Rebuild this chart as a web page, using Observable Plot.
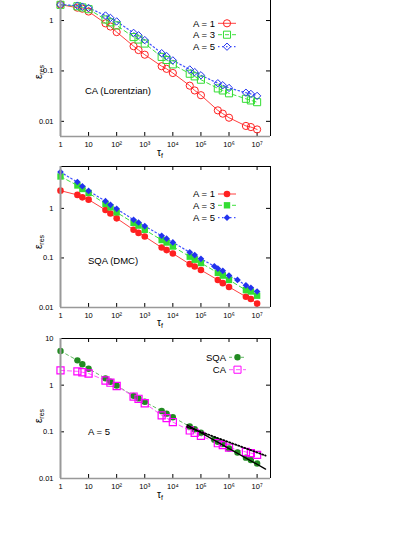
<!DOCTYPE html>
<html><head><meta charset="utf-8">
<script src="https://cdn.jsdelivr.net/npm/d3@7"></script>
<script src="https://cdn.jsdelivr.net/npm/@observablehq/plot@0.6"></script>
<style>
body{margin:0;background:#fff;}
#wrap{position:relative;width:415px;height:537px;overflow:hidden;background:#fff;font-family:"Liberation Sans",Arial,sans-serif;}
#wrap svg{position:absolute;left:0;background:transparent;overflow:visible;}
</style></head><body><div id="wrap"></div>
<script>
// ---- data ----
const tau = [1,4,6,10,40,60,100,400,600,1000,4000,6000,1e4,4e4,6e4,1e5,4e5,6e5,1e6,4e6,6e6,1e7];
const tauS5 = [1,4,6,10,40,60,100,400,600,1000,4000,6000,1e4,4e4,6e4,1e5,3e5,4e5,6e5,1e6,2e6,4e6,6e6,1e7];

const caA1 = [2.07,1.80,1.72,1.51,0.88,0.76,0.59,0.31,0.26,0.21,0.124,0.110,0.091,0.051,0.041,0.033,0.0165,0.0142,0.0118,0.0081,0.0077,0.0069];
const caA3 = [2.05,1.92,1.82,1.68,1.05,0.92,0.80,0.47,0.42,0.35,0.19,0.165,0.135,0.088,0.078,0.067,0.045,0.041,0.036,0.028,0.026,0.024];
const caA5 = [2.07,1.98,1.89,1.78,1.26,1.13,0.96,0.57,0.51,0.41,0.225,0.197,0.162,0.107,0.095,0.082,0.057,0.052,0.046,0.037,0.035,0.032];

const sqaA1 = [2.28,1.87,1.67,1.50,0.93,0.79,0.63,0.37,0.32,0.27,0.162,0.144,0.123,0.075,0.067,0.057,0.036,0.031,0.026,0.0165,0.0148,0.012];
const sqaA3 = [4.4,2.9,2.46,2.05,1.23,1.05,0.83,0.51,0.45,0.37,0.23,0.205,0.17,0.106,0.092,0.079,0.050,0.044,0.036,0.0224,0.021,0.0173];
const sqaA5 = [5.4,3.4,2.8,2.25,1.40,1.18,0.98,0.59,0.52,0.44,0.28,0.245,0.206,0.13,0.114,0.096,0.068,0.061,0.055,0.044,0.036,0.028,0.025,0.021];

const fitTau = [3.2e4, 2e7];
const fitSQA = [0.141, 0.0159];
const fitCA = [0.128, 0.031];

const xTicks = [1,10,100,1e3,1e4,1e5,1e6,1e7];
const xTickLabels = ["1","10","10²","10³","10⁴","10⁵","10⁶","10⁷"];
const yTicksA = [0.01,0.1,1];
const yLabelsA = ["0.01","0.1","1"];
const yTicksB = [0.01,0.1,1,10];
const yLabelsB = ["0.01","0.1","1","10"];
const xDomain = [1, 3e7];

const legend1 = ["A = 1","A = 3","A = 5"];
const legend3 = ["SQA","CA"];
const notes = ["CA (Lorentzian)","SQA (DMC)","A = 5"];

const FONT = '"Liberation Sans", Arial, Helvetica, sans-serif';
const wrap = document.getElementById("wrap");

function series(xs, ys){ return xs.map((x,i)=>({x, y: ys[i]})); }

function panel(cfg){
  const W=415, ML=60, MR=145;
  const innerW = W-ML-MR;
  const H = cfg.marginTop + cfg.innerH + cfg.marginBottom;
  const xLab = new Map(xTicks.map((t,i)=>[t, xTickLabels[i]]));
  const yLab = new Map(cfg.yTicks.map((t,i)=>[t, cfg.yLabels[i]]));
  const plot = Plot.plot({
    width: W, height: H,
    marginLeft: ML, marginRight: MR, marginTop: cfg.marginTop, marginBottom: cfg.marginBottom,
    style: {background: "transparent", fontFamily: FONT, overflow: "visible"},
    x: {type: "log", domain: xDomain},
    y: {type: "log", domain: cfg.yDomain},
    marks: [
      Plot.axisX(xTicks, {tickSize: 0, tickPadding: 5, tickFormat: d => xLab.get(d), fontSize: 7.5, label: null}),
      Plot.axisY(cfg.yTicks, {tickSize: 0, tickPadding: 7, tickFormat: d => yLab.get(d), fontSize: 7.5, label: null}),
      Plot.tickX(xTicks, {stroke: "#000", insetTop: cfg.innerH - 4}),
      Plot.tickX(xTicks, {stroke: "#000", insetBottom: cfg.innerH - 4}),
      Plot.tickY(cfg.yTicks, {stroke: "#000", insetRight: innerW - 4}),
      Plot.tickY(cfg.yTicks, {stroke: "#000", insetLeft: innerW - 4}),
      ...cfg.marks,
      Plot.ruleY([cfg.yDomain[1]], {stroke: "#000", strokeWidth: 1}),
      Plot.ruleX([xDomain[1]], {stroke: "#000", strokeWidth: 1}),
      Plot.ruleX([xDomain[0]], {stroke: "#999", strokeWidth: 2}),
      Plot.ruleY([cfg.yDomain[0]], {stroke: "#999", strokeWidth: 1.5})
    ]
  });
  plot.style.top = cfg.top + "px";
  wrap.appendChild(plot);
  const svg = d3.select(plot);
  const top = cfg.top;
  // y label
  const yl = svg.append("text")
    .attr("transform", `translate(42,${cfg.yLabelY - top}) rotate(-90)`)
    .attr("text-anchor", "middle").attr("font-family", FONT).attr("font-size", 10).attr("fill", "#000");
  yl.append("tspan").text("ε");
  yl.append("tspan").attr("font-size", 7).attr("dy", "0.35em").text("res");
  // x label
  const xl = svg.append("text")
    .attr("x", 160).attr("y", cfg.xLabelY - top)
    .attr("text-anchor", "middle").attr("font-family", FONT).attr("font-size", 10).attr("fill", "#000");
  xl.append("tspan").text("τ");
  xl.append("tspan").attr("font-size", 7).attr("dy", "0.35em").text("f");
  // note
  svg.append("text").attr("x", cfg.note.x).attr("y", cfg.note.y - top)
    .attr("text-anchor", "start")
    .attr("font-family", FONT).attr("font-size", 9.5).attr("fill", "#000").text(cfg.note.text);
  // legend
  cfg.legend.forEach(e => {
    const y = e.y - top;
    svg.append("text").attr("x", e.tx).attr("y", y).attr("dy", "0.35em").attr("text-anchor", "end")
      .attr("font-family", FONT).attr("font-size", 9.5).attr("fill", "#000").text(e.label);
    svg.append("line").attr("x1", e.x1).attr("x2", e.x2).attr("y1", y).attr("y2", y)
      .attr("stroke", e.line).attr("stroke-width", e.lw || 1).attr("stroke-dasharray", e.dash || null);
    svg.append("path").attr("transform", `translate(${e.mx},${y})`)
      .attr("d", d3.symbol(e.sym, Math.PI * e.r * e.r)())
      .attr("fill", e.fill).attr("stroke", e.stroke).attr("stroke-width", 1);
  });
}

const RED = "#ff2020", GREEN = "#33dd33", BLUE = "#2233ee";
const LRED = "#ff4040", LGREEN = "#40e040", LBLUE = "#4050ff";
const DGREEN = "#228b22", MAG = "#ff00ff";

// Panel 1: CA (Lorentzian)
panel({
  top: -10, marginTop: 6, innerH: 140, marginBottom: 24,
  yDomain: [0.005, 3], yTicks: yTicksA, yLabels: yLabelsA,
  yLabelY: 72, xLabelY: 156,
  note: {x: 85, y: 94, text: notes[0]},
  marks: [
    Plot.line(series(tau, caA1), {x: "x", y: "y", stroke: LRED, strokeWidth: 1}),
    Plot.line(series(tau, caA3), {x: "x", y: "y", stroke: LGREEN, strokeWidth: 1, strokeDasharray: "4,3"}),
    Plot.line(series(tau, caA5), {x: "x", y: "y", stroke: LBLUE, strokeWidth: 1.2, strokeDasharray: "1.5,2.5"}),
    Plot.dot(series(tau, caA1), {x: "x", y: "y", symbol: "circle", r: 3.6, stroke: RED, fill: "none", strokeWidth: 1}),
    Plot.dot(series(tau, caA3), {x: "x", y: "y", symbol: "square", r: 4, stroke: GREEN, fill: "none", strokeWidth: 1}),
    Plot.dot(series(tau, caA5), {x: "x", y: "y", symbol: "diamond2", r: 3.3, stroke: BLUE, fill: "none", strokeWidth: 1})
  ],
  legend: [
    {label: legend1[0], y: 23.3, tx: 215, x1: 218, x2: 236, mx: 227, line: LRED, sym: d3.symbolCircle, r: 3.6, fill: "none", stroke: RED},
    {label: legend1[1], y: 34.7, tx: 215, x1: 218, x2: 236, mx: 227, line: LGREEN, dash: "4,3", sym: d3.symbolSquare, r: 4, fill: "none", stroke: GREEN},
    {label: legend1[2], y: 46.7, tx: 215, x1: 218, x2: 236, mx: 227, line: LBLUE, dash: "1.5,2.5", lw: 1.2, sym: d3.symbolDiamond2, r: 3.3, fill: "none", stroke: BLUE}
  ]
});

// Panel 2: SQA (DMC)
panel({
  top: 160, marginTop: 6, innerH: 141, marginBottom: 24,
  yDomain: [0.01, 7], yTicks: yTicksA, yLabels: yLabelsA,
  yLabelY: 242, xLabelY: 326,
  note: {x: 88, y: 263.5, text: notes[1]},
  marks: [
    Plot.line(series(tau, sqaA1), {x: "x", y: "y", stroke: LRED, strokeWidth: 1}),
    Plot.line(series(tau, sqaA3), {x: "x", y: "y", stroke: LGREEN, strokeWidth: 1, strokeDasharray: "4,3"}),
    Plot.line(series(tauS5, sqaA5), {x: "x", y: "y", stroke: LBLUE, strokeWidth: 1.2, strokeDasharray: "1.5,2.5"}),
    Plot.dot(series(tau, sqaA1), {x: "x", y: "y", symbol: "circle", r: 3.3, fill: RED, stroke: "none"}),
    Plot.dot(series(tau, sqaA3), {x: "x", y: "y", symbol: "square", r: 3.6, fill: GREEN, stroke: "none"}),
    Plot.dot(series(tauS5, sqaA5), {x: "x", y: "y", symbol: "diamond2", r: 3.0, fill: BLUE, stroke: "none"})
  ],
  legend: [
    {label: legend1[0], y: 194, tx: 215, x1: 218, x2: 236, mx: 227, line: LRED, sym: d3.symbolCircle, r: 3.3, fill: RED, stroke: "none"},
    {label: legend1[1], y: 205.3, tx: 215, x1: 218, x2: 236, mx: 227, line: LGREEN, dash: "4,3", sym: d3.symbolSquare, r: 3.6, fill: GREEN, stroke: "none"},
    {label: legend1[2], y: 217.7, tx: 215, x1: 218, x2: 236, mx: 227, line: LBLUE, dash: "1.5,2.5", lw: 1.2, sym: d3.symbolDiamond2, r: 3.0, fill: BLUE, stroke: "none"}
  ]
});

// Panel 3: A = 5 comparison
panel({
  top: 330, marginTop: 8, innerH: 140, marginBottom: 40,
  yDomain: [0.01, 10], yTicks: yTicksB, yLabels: yLabelsB,
  yLabelY: 416, xLabelY: 498,
  note: {x: 88, y: 435, text: notes[2]},
  marks: [
    Plot.line(series(tauS5, sqaA5), {x: "x", y: "y", stroke: "#66bb66", strokeWidth: 1, strokeDasharray: "3,3"}),
    Plot.line(series(tau, caA5), {x: "x", y: "y", stroke: "#ff55ff", strokeWidth: 1, strokeDasharray: "4,3"}),
    Plot.dot(series(tauS5, sqaA5), {x: "x", y: "y", symbol: "circle", r: 3.2, fill: DGREEN, stroke: "none"}),
    Plot.dot(series(tau, caA5), {x: "x", y: "y", symbol: "square", r: 4, stroke: MAG, fill: "none", strokeWidth: 1.2}),
    Plot.line(series(fitTau, fitSQA), {x: "x", y: "y", stroke: "#000", strokeWidth: 1.3}),
    Plot.line(series(fitTau, fitCA), {x: "x", y: "y", stroke: "#000", strokeWidth: 1.8, strokeDasharray: "1.2,2"})
  ],
  legend: [
    {label: legend3[0], y: 357.3, tx: 226, x1: 229, x2: 246, mx: 237.5, line: "#66bb66", dash: "3,3", sym: d3.symbolCircle, r: 3.2, fill: DGREEN, stroke: "none"},
    {label: legend3[1], y: 369.7, tx: 226, x1: 229, x2: 246, mx: 237.5, line: "#ff55ff", dash: "4,3", sym: d3.symbolSquare, r: 4, fill: "none", stroke: MAG}
  ]
});
</script></body></html>
